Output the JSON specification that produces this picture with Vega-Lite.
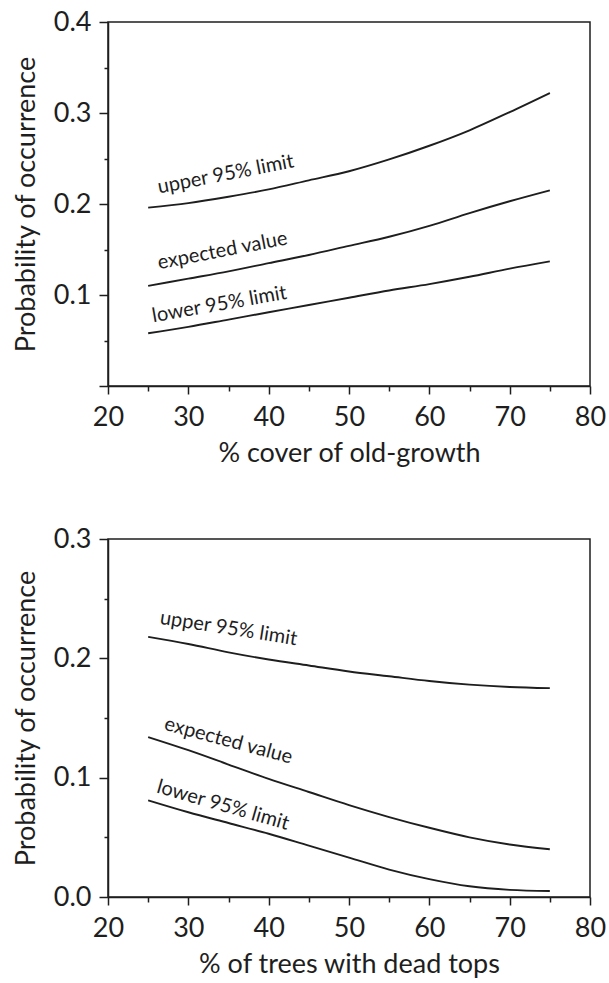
{
  "$schema": "https://vega.github.io/schema/vega-lite/v6.json",
  "background": "white",
  "padding": {"left": 11, "top": 7, "right": 0, "bottom": 0},
  "spacing": 57,
  "datasets": {
    "oldgrowth": [
      {"x": 25, "series": "upper", "p": 0.196},
      {"x": 30, "series": "upper", "p": 0.201},
      {"x": 35, "series": "upper", "p": 0.208},
      {"x": 40, "series": "upper", "p": 0.216},
      {"x": 45, "series": "upper", "p": 0.226},
      {"x": 50, "series": "upper", "p": 0.236},
      {"x": 55, "series": "upper", "p": 0.249},
      {"x": 60, "series": "upper", "p": 0.264},
      {"x": 65, "series": "upper", "p": 0.281},
      {"x": 70, "series": "upper", "p": 0.301},
      {"x": 75, "series": "upper", "p": 0.322},
      {"x": 25, "series": "expected", "p": 0.110},
      {"x": 30, "series": "expected", "p": 0.118},
      {"x": 35, "series": "expected", "p": 0.126},
      {"x": 40, "series": "expected", "p": 0.135},
      {"x": 45, "series": "expected", "p": 0.144},
      {"x": 50, "series": "expected", "p": 0.154},
      {"x": 55, "series": "expected", "p": 0.164},
      {"x": 60, "series": "expected", "p": 0.176},
      {"x": 65, "series": "expected", "p": 0.190},
      {"x": 70, "series": "expected", "p": 0.203},
      {"x": 75, "series": "expected", "p": 0.215},
      {"x": 25, "series": "lower", "p": 0.058},
      {"x": 30, "series": "lower", "p": 0.065},
      {"x": 35, "series": "lower", "p": 0.073},
      {"x": 40, "series": "lower", "p": 0.081},
      {"x": 45, "series": "lower", "p": 0.089},
      {"x": 50, "series": "lower", "p": 0.097},
      {"x": 55, "series": "lower", "p": 0.105},
      {"x": 60, "series": "lower", "p": 0.112},
      {"x": 65, "series": "lower", "p": 0.120},
      {"x": 70, "series": "lower", "p": 0.129},
      {"x": 75, "series": "lower", "p": 0.137}
    ],
    "deadtops": [
      {"x": 25, "series": "upper", "p": 0.218},
      {"x": 30, "series": "upper", "p": 0.212},
      {"x": 35, "series": "upper", "p": 0.205},
      {"x": 40, "series": "upper", "p": 0.199},
      {"x": 45, "series": "upper", "p": 0.194},
      {"x": 50, "series": "upper", "p": 0.189},
      {"x": 55, "series": "upper", "p": 0.185},
      {"x": 60, "series": "upper", "p": 0.181},
      {"x": 65, "series": "upper", "p": 0.178},
      {"x": 70, "series": "upper", "p": 0.176},
      {"x": 75, "series": "upper", "p": 0.175},
      {"x": 25, "series": "expected", "p": 0.134},
      {"x": 30, "series": "expected", "p": 0.123},
      {"x": 35, "series": "expected", "p": 0.111},
      {"x": 40, "series": "expected", "p": 0.099},
      {"x": 45, "series": "expected", "p": 0.088},
      {"x": 50, "series": "expected", "p": 0.077},
      {"x": 55, "series": "expected", "p": 0.067},
      {"x": 60, "series": "expected", "p": 0.058},
      {"x": 65, "series": "expected", "p": 0.050},
      {"x": 70, "series": "expected", "p": 0.044},
      {"x": 75, "series": "expected", "p": 0.040},
      {"x": 25, "series": "lower", "p": 0.081},
      {"x": 30, "series": "lower", "p": 0.071},
      {"x": 35, "series": "lower", "p": 0.062},
      {"x": 40, "series": "lower", "p": 0.053},
      {"x": 45, "series": "lower", "p": 0.043},
      {"x": 50, "series": "lower", "p": 0.033},
      {"x": 55, "series": "lower", "p": 0.023},
      {"x": 60, "series": "lower", "p": 0.015},
      {"x": 65, "series": "lower", "p": 0.009},
      {"x": 70, "series": "lower", "p": 0.006},
      {"x": 75, "series": "lower", "p": 0.005}
    ]
  },
  "vconcat": [
    {
      "width": 482,
      "height": 364,
      "encoding": {
        "x": {
          "field": "x", "type": "quantitative",
          "scale": {"domain": [20, 80], "nice": false, "zero": false},
          "axis": {
            "title": "% cover of old-growth",
            "values": [20, 25, 30, 35, 40, 45, 50, 55, 60, 65, 70, 75, 80],
            "labelExpr": "datum.value % 10 === 0 ? datum.label : ''",
            "tickSize": {"condition": {"test": "datum.value % 10 === 0", "value": 8}, "value": 5}
          }
        },
        "y": {
          "field": "p", "type": "quantitative",
          "scale": {"domain": [0, 0.4], "nice": false},
          "axis": {
            "title": "Probability of occurrence",
            "values": [0, 0.05, 0.1, 0.15, 0.2, 0.25, 0.3, 0.35, 0.4],
            "labelExpr": "datum.value > 0 && abs(datum.value * 10 - round(datum.value * 10)) < 0.001 ? format(datum.value, '.1f') : ''",
            "tickSize": {"condition": {"test": "abs(datum.value * 10 - round(datum.value * 10)) < 0.001", "value": 9}, "value": 4}
          }
        }
      },
      "layer": [
        {
          "data": {"name": "oldgrowth"},
          "mark": {"type": "line", "color": "#1e1e1e", "strokeWidth": 1.9, "interpolate": "monotone"},
          "encoding": {"detail": {"field": "series"}}
        },
        {
          "data": {"values": [{"label": "upper 95% limit", "x": 34.8, "p": 0.226}]},
          "mark": {"type": "text", "angle": -11, "baseline": "alphabetic", "align": "center", "font": "Lato", "fontSize": 20, "color": "#1e1e1e"},
          "encoding": {"text": {"field": "label"}}
        },
        {
          "data": {"values": [{"label": "expected value", "x": 34.4, "p": 0.142}]},
          "mark": {"type": "text", "angle": -11, "baseline": "alphabetic", "align": "center", "font": "Lato", "fontSize": 20, "color": "#1e1e1e"},
          "encoding": {"text": {"field": "label"}}
        },
        {
          "data": {"values": [{"label": "lower 95% limit", "x": 34.0, "p": 0.083}]},
          "mark": {"type": "text", "angle": -10, "baseline": "alphabetic", "align": "center", "font": "Lato", "fontSize": 20, "color": "#1e1e1e"},
          "encoding": {"text": {"field": "label"}}
        }
      ]
    },
    {
      "width": 482,
      "height": 358,
      "encoding": {
        "x": {
          "field": "x", "type": "quantitative",
          "scale": {"domain": [20, 80], "nice": false, "zero": false},
          "axis": {
            "title": "% of trees with dead tops",
            "values": [20, 25, 30, 35, 40, 45, 50, 55, 60, 65, 70, 75, 80],
            "labelExpr": "datum.value % 10 === 0 ? datum.label : ''",
            "tickSize": {"condition": {"test": "datum.value % 10 === 0", "value": 8}, "value": 5}
          }
        },
        "y": {
          "field": "p", "type": "quantitative",
          "scale": {"domain": [0, 0.3], "nice": false},
          "axis": {
            "title": "Probability of occurrence",
            "values": [0, 0.05, 0.1, 0.15, 0.2, 0.25, 0.3],
            "labelExpr": "abs(datum.value * 10 - round(datum.value * 10)) < 0.001 ? format(datum.value, '.1f') : ''",
            "tickSize": {"condition": {"test": "abs(datum.value * 10 - round(datum.value * 10)) < 0.001", "value": 9}, "value": 4}
          }
        }
      },
      "layer": [
        {
          "data": {"name": "deadtops"},
          "mark": {"type": "line", "color": "#1e1e1e", "strokeWidth": 1.9, "interpolate": "monotone"},
          "encoding": {"detail": {"field": "series"}}
        },
        {
          "data": {"values": [{"label": "upper 95% limit", "x": 34.9, "p": 0.220}]},
          "mark": {"type": "text", "angle": 9, "baseline": "alphabetic", "align": "center", "font": "Lato", "fontSize": 20, "color": "#1e1e1e"},
          "encoding": {"text": {"field": "label"}}
        },
        {
          "data": {"values": [{"label": "expected value", "x": 34.8, "p": 0.126}]},
          "mark": {"type": "text", "angle": 15, "baseline": "alphabetic", "align": "center", "font": "Lato", "fontSize": 20, "color": "#1e1e1e"},
          "encoding": {"text": {"field": "label"}}
        },
        {
          "data": {"values": [{"label": "lower 95% limit", "x": 34.1, "p": 0.072}]},
          "mark": {"type": "text", "angle": 16, "baseline": "alphabetic", "align": "center", "font": "Lato", "fontSize": 20, "color": "#1e1e1e"},
          "encoding": {"text": {"field": "label"}}
        }
      ]
    }
  ],
  "config": {
    "font": "Lato",
    "view": {"stroke": "#1e1e1e", "strokeWidth": 1.5},
    "axis": {
      "grid": false,
      "labelFont": "Lato",
      "labelFontSize": 27,
      "labelColor": "#1e1e1e",
      "labelFlush": false,
      "labelOverlap": false,
      "titleFont": "Lato",
      "titleFontSize": 27,
      "titleFontWeight": "normal",
      "titleColor": "#1e1e1e",
      "domainColor": "#1e1e1e",
      "domainWidth": 1.5,
      "tickColor": "#1e1e1e",
      "tickWidth": 1.5
    },
    "axisX": {"titlePadding": 10, "labelPadding": 10},
    "axisY": {"titlePadding": 13, "labelPadding": 8}
  }
}
